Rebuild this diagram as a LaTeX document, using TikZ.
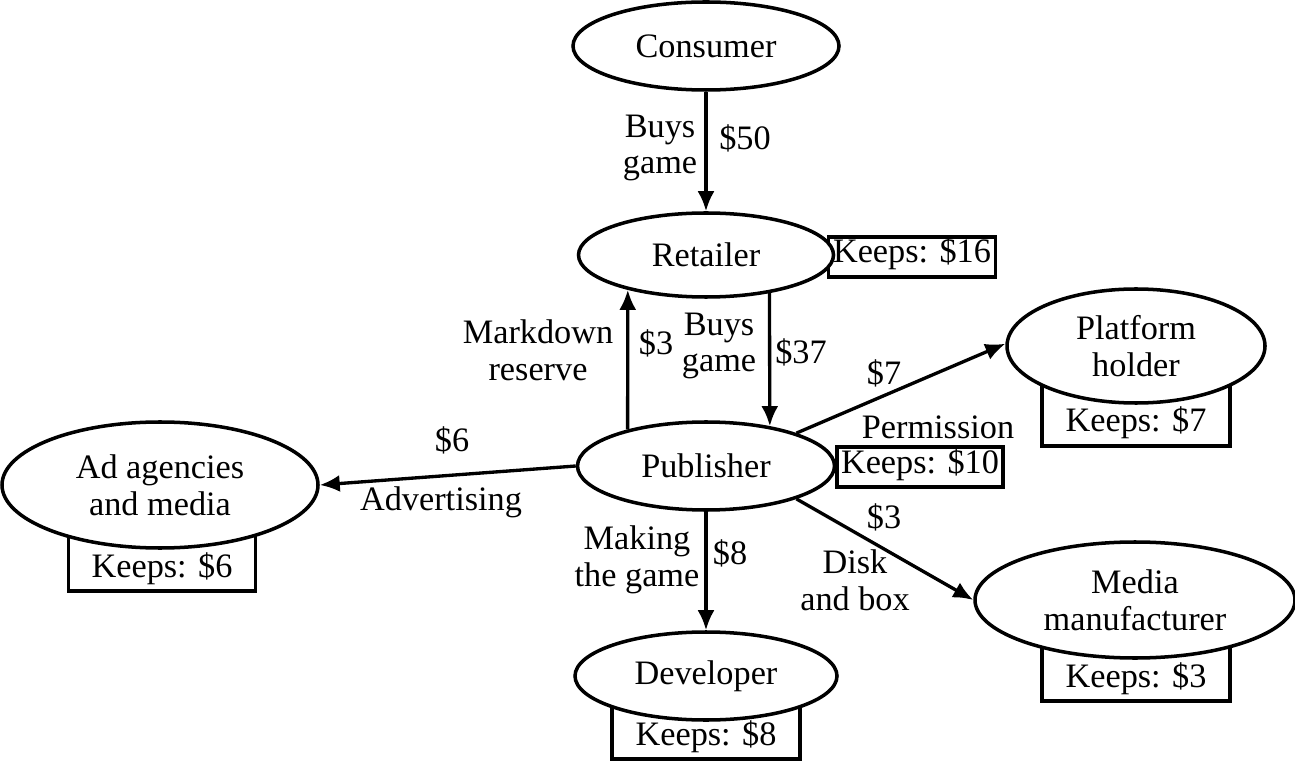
\documentclass[tikz,border=0pt]{standalone}
\usepackage{fontspec}
\setmainfont{Liberation Serif}
\usetikzlibrary{shapes.geometric,arrows.meta}

\begin{document}
\begin{tikzpicture}[every node/.style={font=\fontsize{19.5}{21}\selectfont}]
\tikzstyle{lien}=[->,>={Latex[length=4mm,width=3.4mm]},line width=1.9pt]
\tikzset{acteur/.style={draw,ellipse,line width=2pt,fill=white,inner sep=0pt,align=center},
garde/.style={draw,line width=1.9pt,fill=white,anchor=base,inner sep=0.08cm,text depth=0.2cm,text height=#1},
garde/.default={0.44cm},
etiq/.style={align=center,inner sep=0pt}}
\useasboundingbox (0,0) rectangle (25.9,-15.28);

% ce que chacun garde
\node[garde,minimum width=3.34cm] (KR) at (18.24,-5.26) {Keeps: \$16};
\node[garde,minimum width=3.3cm] (KP) at (18.4,-9.46) {Keeps: \$10};
\node[garde=0.9cm,minimum width=3.76cm] (KH) at (22.72,-8.64) {Keeps: \$7};
\node[garde=0.8cm,minimum width=3.74cm] (KA) at (3.24,-11.54) {Keeps: \$6};
\node[garde=0.8cm,minimum width=3.76cm] (KD) at (14.12,-14.9) {Keeps: \$8};
\node[garde=0.8cm,minimum width=3.76cm] (KM) at (22.72,-13.74) {Keeps: \$3};

% acteurs
\node[acteur,minimum width=5.32cm,minimum height=1.76cm] (C) at (14.12,-0.92) {Consumer};
\node[acteur,minimum width=5.1cm,minimum height=1.68cm] (R) at (14.12,-5.1) {Retailer};
\node[acteur,minimum width=5.14cm,minimum height=1.76cm] (P) at (14.12,-9.32) {Publisher};
\node[acteur,minimum width=5.24cm,minimum height=1.76cm] (D) at (14.12,-13.52) {Developer};
\node[acteur,minimum width=5.16cm,minimum height=2.28cm] (H) at (22.72,-6.92) {Platform\\holder};
\node[acteur,minimum width=6.32cm,minimum height=2.52cm] (A) at (3.2,-9.7) {Ad agencies\\and media};
\node[acteur,minimum width=6.4cm,minimum height=2.32cm] (M) at (22.7,-12.0) {Media\\manufacturer};

% flux
\draw[lien] (C) -- (R);
\draw[lien] (P.155) -- (R.204);
\draw[lien] (R.-31) -- (P.32);
\draw[lien] (P.20) -- (H.179);
\draw[lien] (P.west) -- (A.east);
\draw[lien] (P) -- (D);
\draw[lien] (P.-20) -- (M.west);

% etiquettes
\node[etiq] (l1) at (13.2,-2.96) {Buys\\game};
\node[etiq] (l2) at (14.9,-2.76) {\$50};
\node[etiq] (l3) at (10.76,-7.0) {Markdown\\reserve};
\node[etiq] (l4) at (13.12,-6.86) {\$3};
\node[etiq] (l5) at (14.38,-6.92) {Buys\\game};
\node[etiq] (l6) at (16.02,-7.04) {\$37};
\node[etiq] (l7) at (17.68,-7.46) {\$7};
\node[etiq] (l8) at (18.76,-8.54) {Permission};
\node[etiq] (l9) at (9.04,-8.8) {\$6};
\node[etiq] (l10) at (8.82,-10.04) {Advertising};
\node[etiq] (l11) at (12.74,-11.2) {Making\\the game};
\node[etiq] (l12) at (14.6,-11.06) {\$8};
\node[etiq] (l13) at (17.68,-10.34) {\$3};
\node[etiq] (l14) at (17.1,-11.6) {Disk\\and box};

\end{tikzpicture}
\end{document}
